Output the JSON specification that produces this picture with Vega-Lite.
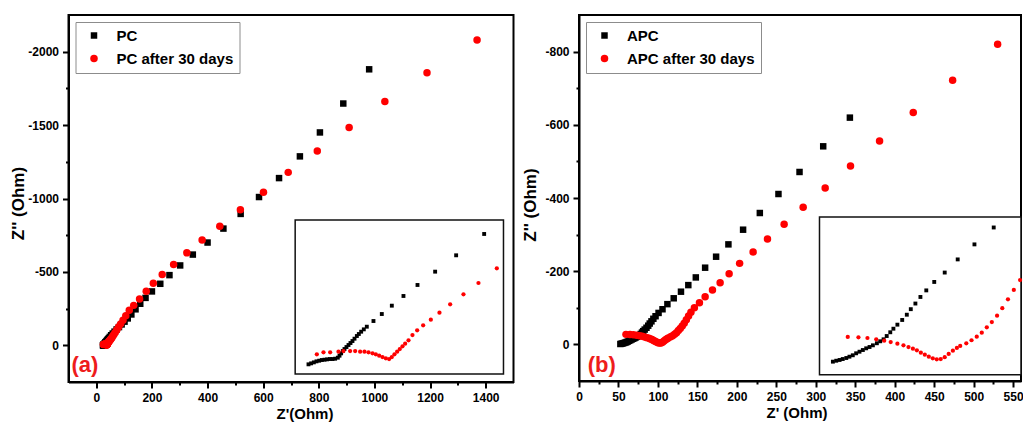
{
  "$schema": "https://vega.github.io/schema/vega-lite/v6.json",
  "background": "white",
  "padding": {"left": 8.5, "top": 14, "right": 0, "bottom": 0},
  "datasets": {
    "a": [
      {"s":"PC","x":24,"y":0},{"s":"PC","x":24.44,"y":-0.51},{"s":"PC","x":24.89,"y":-1.03},{"s":"PC","x":25.33,"y":-1.56},{"s":"PC","x":25.78,"y":-1.91},{"s":"PC","x":26.22,"y":-2.26},{"s":"PC","x":26.67,"y":-2.43},{"s":"PC","x":27.11,"y":-2.62},{"s":"PC","x":27.56,"y":-2.79},{"s":"PC","x":28,"y":-2.79},{"s":"PC","x":28.44,"y":-2.96},{"s":"PC","x":28.89,"y":-3.5},{"s":"PC","x":29.17,"y":-4.54},{"s":"PC","x":29.44,"y":-5.77},{"s":"PC","x":29.72,"y":-7},{"s":"PC","x":30,"y":-8.05},{"s":"PC","x":30.33,"y":-9.1},{"s":"PC","x":30.67,"y":-10.16},{"s":"PC","x":31,"y":-11.21},{"s":"PC","x":31.33,"y":-12.26},{"s":"PC","x":31.67,"y":-13.49},{"s":"PC","x":32.06,"y":-14.89},{"s":"PC","x":32.39,"y":-15.95},{"s":"PC","x":32.78,"y":-17.17},{"s":"PC","x":33.22,"y":-18.4},{"s":"PC","x":33.72,"y":-19.8},{"s":"PC","x":34.83,"y":-22.79},{"s":"PC","x":36.22,"y":-26.47},{"s":"PC","x":37.89,"y":-30.86},{"s":"PC","x":39.83,"y":-35.96},{"s":"PC","x":42.17,"y":-41.75},{"s":"PC","x":45.11,"y":-48.76},{"s":"PC","x":48.61,"y":-57.36},{"s":"PC","x":53.28,"y":-68.59},{"s":"PC","x":59,"y":-80},{"s":"PC","x":65.5,"y":-93},{"s":"PC","x":73,"y":-108},{"s":"PC","x":81.5,"y":-124},{"s":"PC","x":91,"y":-142},{"s":"PC","x":101.5,"y":-161},{"s":"PC","x":113,"y":-183},{"s":"PC","x":126,"y":-210},{"s":"PC","x":141,"y":-245},{"s":"PC","x":158,"y":-283},{"s":"PC","x":177,"y":-323},{"s":"PC","x":200,"y":-367},{"s":"PC","x":230,"y":-419},{"s":"PC","x":263,"y":-478},{"s":"PC","x":301.5,"y":-544},{"s":"PC","x":347,"y":-618},{"s":"PC","x":400,"y":-700},{"s":"PC","x":457,"y":-795},{"s":"PC","x":519,"y":-895},{"s":"PC","x":585,"y":-1010},{"s":"PC","x":657,"y":-1139},{"s":"PC","x":732,"y":-1287},{"s":"PC","x":804,"y":-1450},{"s":"PC","x":888,"y":-1647},{"s":"PC","x":981,"y":-1880},
      {"s":"PC after 30 days","x":25.39,"y":-5.25},{"s":"PC after 30 days","x":26.5,"y":-6.3},{"s":"PC after 30 days","x":27.61,"y":-6.3},{"s":"PC after 30 days","x":29,"y":-6.65},{"s":"PC after 30 days","x":29.83,"y":-7},{"s":"PC after 30 days","x":30.94,"y":-7},{"s":"PC after 30 days","x":31.78,"y":-7},{"s":"PC after 30 days","x":32.61,"y":-6.65},{"s":"PC after 30 days","x":33.33,"y":-6.65},{"s":"PC after 30 days","x":34,"y":-6.3},{"s":"PC after 30 days","x":34.67,"y":-5.77},{"s":"PC after 30 days","x":35.22,"y":-5.25},{"s":"PC after 30 days","x":35.78,"y":-4.54},{"s":"PC after 30 days","x":36.33,"y":-3.84},{"s":"PC after 30 days","x":36.89,"y":-3.14},{"s":"PC after 30 days","x":37.44,"y":-2.79},{"s":"PC after 30 days","x":37.89,"y":-3.84},{"s":"PC after 30 days","x":38.33,"y":-5.25},{"s":"PC after 30 days","x":38.78,"y":-6.65},{"s":"PC after 30 days","x":39.22,"y":-8.05},{"s":"PC after 30 days","x":39.67,"y":-9.46},{"s":"PC after 30 days","x":40.11,"y":-10.86},{"s":"PC after 30 days","x":40.67,"y":-12.61},{"s":"PC after 30 days","x":41.33,"y":-15.42},{"s":"PC after 30 days","x":42.11,"y":-17.88},{"s":"PC after 30 days","x":43.11,"y":-20.51},{"s":"PC after 30 days","x":44.39,"y":-23.5},{"s":"PC after 30 days","x":45.83,"y":-27.18},{"s":"PC after 30 days","x":47.61,"y":-31.57},{"s":"PC after 30 days","x":49.83,"y":-36.82},{"s":"PC after 30 days","x":52.33,"y":-42.79},{"s":"PC after 30 days","x":55.39,"y":-50.51},{"s":"PC after 30 days","x":59,"y":-61},{"s":"PC after 30 days","x":63.2,"y":-74},{"s":"PC after 30 days","x":68,"y":-88},{"s":"PC after 30 days","x":73.5,"y":-104},{"s":"PC after 30 days","x":80,"y":-124},{"s":"PC after 30 days","x":87.5,"y":-146},{"s":"PC after 30 days","x":96,"y":-171},{"s":"PC after 30 days","x":106,"y":-201},{"s":"PC after 30 days","x":118.5,"y":-238},{"s":"PC after 30 days","x":134.5,"y":-272},{"s":"PC after 30 days","x":155.5,"y":-316},{"s":"PC after 30 days","x":179.5,"y":-368},{"s":"PC after 30 days","x":205,"y":-422},{"s":"PC after 30 days","x":237,"y":-482},{"s":"PC after 30 days","x":278,"y":-550},{"s":"PC after 30 days","x":325.5,"y":-630},{"s":"PC after 30 days","x":380.5,"y":-718},{"s":"PC after 30 days","x":444,"y":-811},{"s":"PC after 30 days","x":518,"y":-924},{"s":"PC after 30 days","x":601,"y":-1042},{"s":"PC after 30 days","x":690,"y":-1178},{"s":"PC after 30 days","x":794.5,"y":-1323},{"s":"PC after 30 days","x":909,"y":-1484},{"s":"PC after 30 days","x":1037.5,"y":-1660},{"s":"PC after 30 days","x":1189,"y":-1857},{"s":"PC after 30 days","x":1369,"y":-2079}
    ],
    "b": [
      {"s":"APC","x":52.4,"y":-1.1},{"s":"APC","x":54,"y":-2.1},{"s":"APC","x":55.6,"y":-2.9},{"s":"APC","x":57.1,"y":-3.9},{"s":"APC","x":58.8,"y":-5},{"s":"APC","x":60.3,"y":-6.4},{"s":"APC","x":61.9,"y":-7.9},{"s":"APC","x":63.5,"y":-10},{"s":"APC","x":65.1,"y":-11.7},{"s":"APC","x":66.7,"y":-13.5},{"s":"APC","x":68.3,"y":-15.3},{"s":"APC","x":69.9,"y":-16.7},{"s":"APC","x":71.5,"y":-18.5},{"s":"APC","x":73.4,"y":-20.7},{"s":"APC","x":75,"y":-22.8},{"s":"APC","x":76.6,"y":-24.9},{"s":"APC","x":78.1,"y":-28.4},{"s":"APC","x":79.8,"y":-32.4},{"s":"APC","x":81.3,"y":-36.2},{"s":"APC","x":83.2,"y":-40.5},{"s":"APC","x":85.5,"y":-45.5},{"s":"APC","x":87.7,"y":-51.1},{"s":"APC","x":89.6,"y":-57},{"s":"APC","x":91.8,"y":-63},{"s":"APC","x":94.2,"y":-70},{"s":"APC","x":97,"y":-77},{"s":"APC","x":100.8,"y":-86},{"s":"APC","x":105.8,"y":-96},{"s":"APC","x":112,"y":-110},{"s":"APC","x":120,"y":-126},{"s":"APC","x":129.2,"y":-144},{"s":"APC","x":138.5,"y":-162},{"s":"APC","x":148,"y":-183},{"s":"APC","x":159.8,"y":-209.6},{"s":"APC","x":173.7,"y":-239.6},{"s":"APC","x":189.3,"y":-273.3},{"s":"APC","x":207.9,"y":-313.4},{"s":"APC","x":229.1,"y":-359},{"s":"APC","x":252.7,"y":-410.9},{"s":"APC","x":279.4,"y":-471.1},{"s":"APC","x":309.4,"y":-541.2},{"s":"APC","x":343.2,"y":-619.6},
      {"s":"APC after 30 days","x":59.5,"y":-27.4},{"s":"APC after 30 days","x":64.6,"y":-27},{"s":"APC after 30 days","x":68.9,"y":-26.3},{"s":"APC after 30 days","x":73.1,"y":-24.9},{"s":"APC after 30 days","x":76.9,"y":-23.4},{"s":"APC after 30 days","x":80,"y":-22},{"s":"APC after 30 days","x":83.2,"y":-20.2},{"s":"APC after 30 days","x":86.1,"y":-18.5},{"s":"APC after 30 days","x":88.5,"y":-16.7},{"s":"APC after 30 days","x":90.6,"y":-14.9},{"s":"APC after 30 days","x":92.5,"y":-13.2},{"s":"APC after 30 days","x":94.4,"y":-10.6},{"s":"APC after 30 days","x":96.3,"y":-8.5},{"s":"APC after 30 days","x":98.2,"y":-6.4},{"s":"APC after 30 days","x":100.1,"y":-4.7},{"s":"APC after 30 days","x":102,"y":-3.6},{"s":"APC after 30 days","x":103.9,"y":-3.9},{"s":"APC after 30 days","x":105.8,"y":-5.8},{"s":"APC after 30 days","x":107.7,"y":-9.3},{"s":"APC after 30 days","x":109.7,"y":-12.8},{"s":"APC after 30 days","x":111.6,"y":-15.7},{"s":"APC after 30 days","x":113.2,"y":-17.8},{"s":"APC after 30 days","x":116.1,"y":-20.7},{"s":"APC after 30 days","x":118.6,"y":-23.9},{"s":"APC after 30 days","x":121.1,"y":-27.7},{"s":"APC after 30 days","x":123.5,"y":-31.9},{"s":"APC after 30 days","x":125.9,"y":-37.7},{"s":"APC after 30 days","x":128.3,"y":-43.3},{"s":"APC after 30 days","x":130.8,"y":-50},{"s":"APC after 30 days","x":133.3,"y":-58},{"s":"APC after 30 days","x":136,"y":-67.5},{"s":"APC after 30 days","x":138.8,"y":-77.5},{"s":"APC after 30 days","x":141.8,"y":-88},{"s":"APC after 30 days","x":146.2,"y":-100.3},{"s":"APC after 30 days","x":152.6,"y":-114},{"s":"APC after 30 days","x":159.8,"y":-130},{"s":"APC after 30 days","x":169.1,"y":-148.5},{"s":"APC after 30 days","x":178.8,"y":-168.6},{"s":"APC after 30 days","x":190.2,"y":-193.2},{"s":"APC after 30 days","x":203.5,"y":-221.4},{"s":"APC after 30 days","x":220.6,"y":-252.4},{"s":"APC after 30 days","x":238.8,"y":-287.9},{"s":"APC after 30 days","x":259.9,"y":-328},{"s":"APC after 30 days","x":284,"y":-374.5},{"s":"APC after 30 days","x":311.9,"y":-427.3},{"s":"APC after 30 days","x":344,"y":-487.5},{"s":"APC after 30 days","x":380.8,"y":-555.8},{"s":"APC after 30 days","x":423.5,"y":-633.3},{"s":"APC after 30 days","x":473.4,"y":-721.6},{"s":"APC after 30 days","x":530.4,"y":-820}
    ]
  },
  "hconcat": [
    {
      "width": 445,
      "height": 367,
      "resolve": {"scale": {"x": "independent", "y": "independent"}},
      "layer": [
        {
          "data": {"name": "a"},
          "mark": {"type": "point", "filled": true, "opacity": 1, "strokeWidth": 0},
          "encoding": {
            "x": {"field": "x", "type": "quantitative", "scale": {"domain": [-100, 1500], "nice": false, "zero": false},
              "axis": {"title": "Z'(Ohm)", "values": [0,100,200,300,400,500,600,700,800,900,1000,1100,1200,1300,1400],
                "labelExpr": "datum.value % 200 === 0 ? '' + datum.value : ''",
                "tickSize": {"condition": {"test": "datum.value % 200 === 0", "value": 6}, "value": 3},
                "titleFontSize": 15, "titleX": 236, "titlePadding": 3, "titleAlign": "center"}},
            "y": {"field": "y", "type": "quantitative", "scale": {"domain": [-2250, 250], "reverse": true, "nice": false, "zero": false},
              "axis": {"title": "Z'' (Ohm)", "values": [-2000,-1750,-1500,-1250,-1000,-750,-500,-250,0],
                "labelExpr": "datum.value % 500 === 0 ? '' + datum.value : ''",
                "tickSize": {"condition": {"test": "datum.value % 500 === 0", "value": 6}, "value": 3},
                "titleFontSize": 17, "titleX": -50, "titleY": 188, "titleAngle": 270, "titleBaseline": "middle", "titleAlign": "center"}},
            "color": {"field": "s", "type": "nominal", "scale": {"domain": ["PC", "PC after 30 days"], "range": ["#000000", "#ff0000"]}, "legend": {"title": null}},
            "shape": {"field": "s", "type": "nominal", "scale": {"domain": ["PC", "PC after 30 days"], "range": ["square", "circle"]}, "legend": {"title": null}},
            "size": {"field": "s", "type": "nominal", "scale": {"domain": ["PC", "PC after 30 days"], "range": [42, 56]}, "legend": null}
          }
        },
        {
          "data": {"values": [{}]},
          "mark": {"type": "rect", "fill": "white", "stroke": "#111111", "strokeWidth": 1.5},
          "encoding": {
            "x": {"datum": 21.78, "type": "quantitative", "scale": {"domain": [-16, 58.17], "nice": false, "zero": false}, "axis": null},
            "x2": {"datum": 56.5},
            "y": {"datum": -75.9, "type": "quantitative", "scale": {"domain": [-183.8, 9.3], "reverse": true, "nice": false, "zero": false}, "axis": null},
            "y2": {"datum": 5.1}
          }
        },
        {
          "data": {"name": "a"},
          "transform": [{"filter": "datum.s === 'PC' && datum.x >= 21.78 && datum.x <= 56.5 && datum.y >= -75.9 && datum.y <= 5.1"}],
          "mark": {"type": "point", "shape": "square", "filled": true, "color": "#000000", "opacity": 1, "size": 15, "strokeWidth": 0},
          "encoding": {
            "x": {"field": "x", "type": "quantitative", "scale": {"domain": [-16, 58.17], "nice": false, "zero": false}, "axis": null},
            "y": {"field": "y", "type": "quantitative", "scale": {"domain": [-183.8, 9.3], "reverse": true, "nice": false, "zero": false}, "axis": null}
          }
        },
        {
          "data": {"name": "a"},
          "transform": [{"filter": "datum.s === 'PC after 30 days' && datum.x >= 21.78 && datum.x <= 56.5 && datum.y >= -75.9 && datum.y <= 5.1"}],
          "mark": {"type": "point", "shape": "circle", "filled": true, "color": "#ff0000", "opacity": 1, "size": 18, "strokeWidth": 0},
          "encoding": {
            "x": {"field": "x", "type": "quantitative", "scale": {"domain": [-16, 58.17], "nice": false, "zero": false}, "axis": null},
            "y": {"field": "y", "type": "quantitative", "scale": {"domain": [-183.8, 9.3], "reverse": true, "nice": false, "zero": false}, "axis": null}
          }
        },
        {
          "data": {"values": [{}]},
          "mark": {"type": "text", "text": "(a)", "color": "#ee1c1c", "fontSize": 22, "fontWeight": "bold", "font": "Liberation Sans", "align": "center", "baseline": "middle"},
          "encoding": {
            "x": {"datum": -41, "type": "quantitative", "scale": {"domain": [-100, 1500], "nice": false, "zero": false}, "axis": null},
            "y": {"datum": 134, "type": "quantitative", "scale": {"domain": [-2250, 250], "reverse": true, "nice": false, "zero": false}, "axis": null}
          }
        }
      ]
    },
    {
      "width": 442,
      "height": 366,
      "resolve": {"scale": {"x": "independent", "y": "independent"}},
      "layer": [
        {
          "data": {"name": "b"},
          "mark": {"type": "point", "filled": true, "opacity": 1, "strokeWidth": 0},
          "encoding": {
            "x": {"field": "x", "type": "quantitative", "scale": {"domain": [0, 560], "nice": false, "zero": false},
              "axis": {"title": "Z' (Ohm)", "values": [0,25,50,75,100,125,150,175,200,225,250,275,300,325,350,375,400,425,450,475,500,525,550],
                "labelExpr": "datum.value % 50 === 0 ? '' + datum.value : ''",
                "tickSize": {"condition": {"test": "datum.value % 50 === 0", "value": 6}, "value": 3},
                "titleFontSize": 15, "titleX": 217.5, "titlePadding": 3, "titleAlign": "center"}},
            "y": {"field": "y", "type": "quantitative", "scale": {"domain": [-900, 100], "reverse": true, "nice": false, "zero": false},
              "axis": {"title": "Z'' (Ohm)", "values": [-800,-700,-600,-500,-400,-300,-200,-100,0],
                "labelExpr": "datum.value % 200 === 0 ? '' + datum.value : ''",
                "tickSize": {"condition": {"test": "datum.value % 200 === 0", "value": 6}, "value": 3},
                "titleFontSize": 17, "titleX": -49, "titleY": 189.5, "titleAngle": 270, "titleBaseline": "middle", "titleAlign": "center"}},
            "color": {"field": "s", "type": "nominal", "scale": {"domain": ["APC", "APC after 30 days"], "range": ["#000000", "#ff0000"]}, "legend": {"title": null}},
            "shape": {"field": "s", "type": "nominal", "scale": {"domain": ["APC", "APC after 30 days"], "range": ["square", "circle"]}, "legend": {"title": null}},
            "size": {"field": "s", "type": "nominal", "scale": {"domain": ["APC", "APC after 30 days"], "range": [42, 56]}, "legend": null}
          }
        },
        {
          "data": {"values": [{}]},
          "mark": {"type": "rect", "fill": "white", "stroke": "#111111", "strokeWidth": 1.5},
          "encoding": {
            "x": {"datum": 46, "type": "quantitative", "scale": {"domain": [-68.85, 142.23], "nice": false, "zero": false}, "axis": null},
            "x2": {"datum": 142.23},
            "y": {"datum": -155.2, "type": "quantitative", "scale": {"domain": [-370.3, 19.5], "reverse": true, "nice": false, "zero": false}, "axis": null},
            "y2": {"datum": 12.8}
          }
        },
        {
          "data": {"name": "b"},
          "transform": [{"filter": "datum.s === 'APC' && datum.x >= 46 && datum.x <= 142.23 && datum.y >= -155.2 && datum.y <= 12.8"}],
          "mark": {"type": "point", "shape": "square", "filled": true, "color": "#000000", "opacity": 1, "size": 15, "strokeWidth": 0},
          "encoding": {
            "x": {"field": "x", "type": "quantitative", "scale": {"domain": [-68.85, 142.23], "nice": false, "zero": false}, "axis": null},
            "y": {"field": "y", "type": "quantitative", "scale": {"domain": [-370.3, 19.5], "reverse": true, "nice": false, "zero": false}, "axis": null}
          }
        },
        {
          "data": {"name": "b"},
          "transform": [{"filter": "datum.s === 'APC after 30 days' && datum.x >= 46 && datum.x <= 142.23 && datum.y >= -155.2 && datum.y <= 12.8"}],
          "mark": {"type": "point", "shape": "circle", "filled": true, "color": "#ff0000", "opacity": 1, "size": 18, "strokeWidth": 0},
          "encoding": {
            "x": {"field": "x", "type": "quantitative", "scale": {"domain": [-68.85, 142.23], "nice": false, "zero": false}, "axis": null},
            "y": {"field": "y", "type": "quantitative", "scale": {"domain": [-370.3, 19.5], "reverse": true, "nice": false, "zero": false}, "axis": null}
          }
        },
        {
          "data": {"values": [{}]},
          "mark": {"type": "text", "text": "(b)", "color": "#ee1c1c", "fontSize": 22, "fontWeight": "bold", "font": "Liberation Sans", "align": "center", "baseline": "middle"},
          "encoding": {
            "x": {"datum": 28.9, "type": "quantitative", "scale": {"domain": [0, 560], "nice": false, "zero": false}, "axis": null},
            "y": {"datum": 56, "type": "quantitative", "scale": {"domain": [-900, 100], "reverse": true, "nice": false, "zero": false}, "axis": null}
          }
        }
      ]
    }
  ],
  "spacing": 65.5,
  "bounds": "flush",
  "resolve": {"scale": {"color": "independent", "shape": "independent", "size": "independent"}, "legend": {"color": "independent", "shape": "independent"}},
  "config": {
    "view": {"stroke": "#000000", "strokeWidth": 2},
    "font": "Liberation Sans",
    "axis": {"domainColor": "#000000", "domainWidth": 2, "tickColor": "#000000", "tickWidth": 2, "labelColor": "#000000", "labelFont": "Liberation Sans", "labelFontWeight": "bold", "labelFontSize": 12, "labelPadding": 4, "titleFont": "Liberation Sans", "titleFontWeight": "bold", "titleColor": "#000000", "grid": false, "labelOverlap": false, "labelFlush": false, "labelBound": false},
    "legend": {"orient": "top-left", "offset": 7, "padding": 6, "strokeColor": "#8c8c8c", "fillColor": "#ffffff", "labelFont": "Liberation Sans", "labelFontSize": 15, "labelFontWeight": "bold", "labelColor": "#000000", "labelExpr": "datum.label + '\u00a0\u00a0'", "symbolSize": 45, "rowPadding": 7, "labelOffset": 15, "symbolOffset": 5, "symbolStrokeWidth": 0}
  }
}
